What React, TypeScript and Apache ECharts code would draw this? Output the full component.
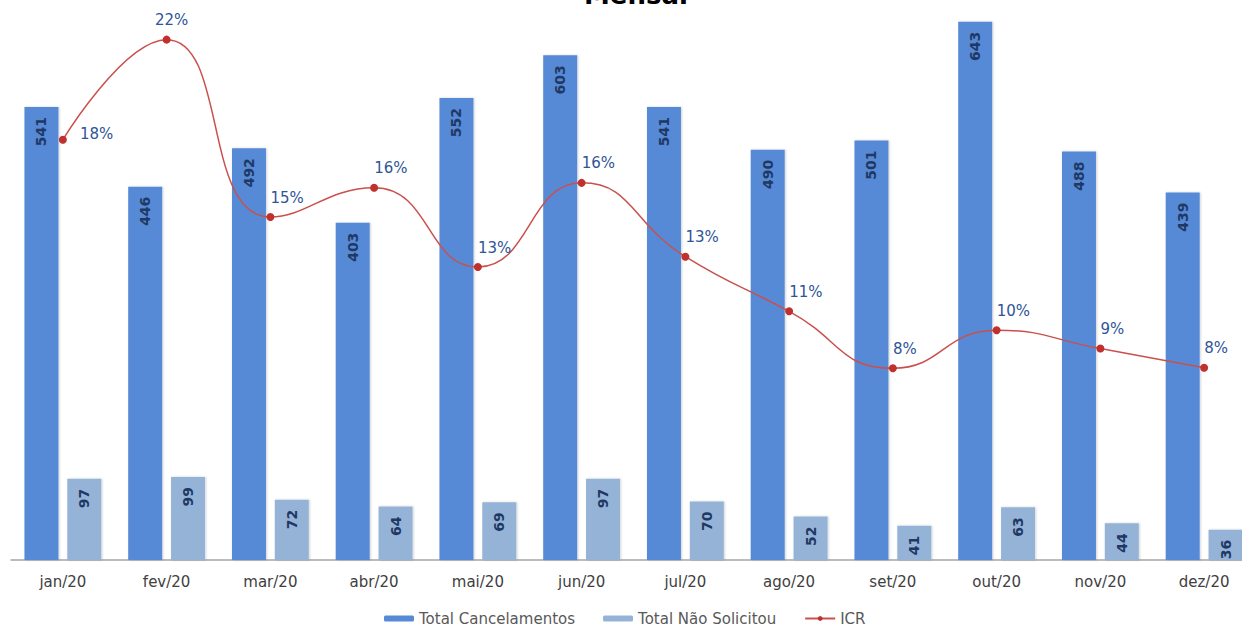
import React, { useEffect, useRef } from "react";
import * as echarts from "echarts";

const categories = ["jan/20", "fev/20", "mar/20", "abr/20", "mai/20", "jun/20", "jul/20", "ago/20", "set/20", "out/20", "nov/20", "dez/20"];
const totalCancelamentos = [541, 446, 492, 403, 552, 603, 541, 490, 501, 643, 488, 439];
const totalNaoSolicitou = [97, 99, 72, 64, 69, 97, 70, 52, 41, 63, 44, 36];
const icr = [0.1793, 0.222, 0.1463, 0.1588, 0.125, 0.1609, 0.1294, 0.1061, 0.0818, 0.098, 0.0902, 0.082];

const FONT = "DejaVu Sans";
// The reference is a crop of a larger chart: the chart extends past the top and right edges.
const SHIFT_Y = 26;

export default function App() {
  const ref = useRef<HTMLDivElement>(null);
  useEffect(() => {
    if (!ref.current) return;
    const chart = echarts.init(ref.current, null, { renderer: "svg" });
    const barLabel = {
      show: true,
      position: "insideTop",
      rotate: 90,
      align: "right",
      verticalAlign: "middle",
      distance: 10,
      color: "#1f3864",
      fontFamily: FONT,
      fontSize: 14,
      fontWeight: "bold",
    };
    const labelOverrides: Record<number, any> = {
      0: { position: "right", align: "left", offset: [8, -6] },
      1: { position: "top", align: "center", offset: [5, -3] },
    };
    const icrData = icr.map((v, i) =>
      labelOverrides[i] ? { value: v, label: labelOverrides[i] } : v
    );
    const shadow = {
      shadowColor: "rgba(0,0,0,0.18)",
      shadowBlur: 2,
      shadowOffsetX: 1,
      shadowOffsetY: 0,
    };
    chart.setOption({
      animation: false,
      backgroundColor: "#ffffff",
      title: {
        text: "Mensal",
        left: 579,
        top: -23 + SHIFT_Y,
        textStyle: { fontFamily: FONT, fontSize: 26, fontWeight: "bold", color: "#000000" },
      },
      legend: {
        left: 379,
        top: 606 + SHIFT_Y,
        itemGap: 28,
        itemWidth: 30,
        itemHeight: 6,
        textStyle: { fontFamily: FONT, fontSize: 15, color: "#595959" },
        data: ["Total Cancelamentos", "Total Não Solicitou", "ICR"],
      },
      grid: { left: 11, width: 1245, top: 0, bottom: 68, containLabel: false },
      xAxis: {
        type: "category",
        data: categories,
        axisLine: { show: true, lineStyle: { color: "#a6a6a6", width: 1.5 } },
        axisTick: { show: false },
        axisLabel: { color: "#404040", fontFamily: FONT, fontSize: 15, margin: 14 },
      },
      yAxis: [
        { type: "value", min: 0, max: 700, show: false, splitLine: { show: false } },
        { type: "value", min: 0, max: 0.25, show: false, splitLine: { show: false } },
      ],
      series: [
        {
          name: "Total Cancelamentos",
          type: "bar",
          data: totalCancelamentos,
          barWidth: 34,
          barGap: "26%",
          itemStyle: { color: "#568ad6", ...shadow },
          label: barLabel,
        },
        {
          name: "Total Não Solicitou",
          type: "bar",
          data: totalNaoSolicitou,
          barWidth: 34,
          itemStyle: { color: "#95b3d7", ...shadow },
          label: barLabel,
        },
        {
          name: "ICR",
          type: "line",
          yAxisIndex: 1,
          data: icrData,
          smooth: true,
          symbol: "circle",
          symbolSize: 8,
          lineStyle: { color: "#c9504d", width: 1.5 },
          itemStyle: { color: "#c0302c" },
          label: {
            show: true,
            position: "top",
            align: "left",
            offset: [0, -3],
            color: "#2f5597",
            fontFamily: FONT,
            fontSize: 15,
            formatter: (p: any) => Math.round(p.value * 100) + "%",
          },
        },
      ],
    });
    return () => chart.dispose();
  }, []);
  return (
    <div style={{ position: "fixed", left: 0, top: 0, width: 1242, height: 628, overflow: "hidden" }}>
      <div
        ref={ref}
        style={{ position: "absolute", left: 0, top: -SHIFT_Y, width: 1256, height: 628 + SHIFT_Y }}
      />
    </div>
  );
}
